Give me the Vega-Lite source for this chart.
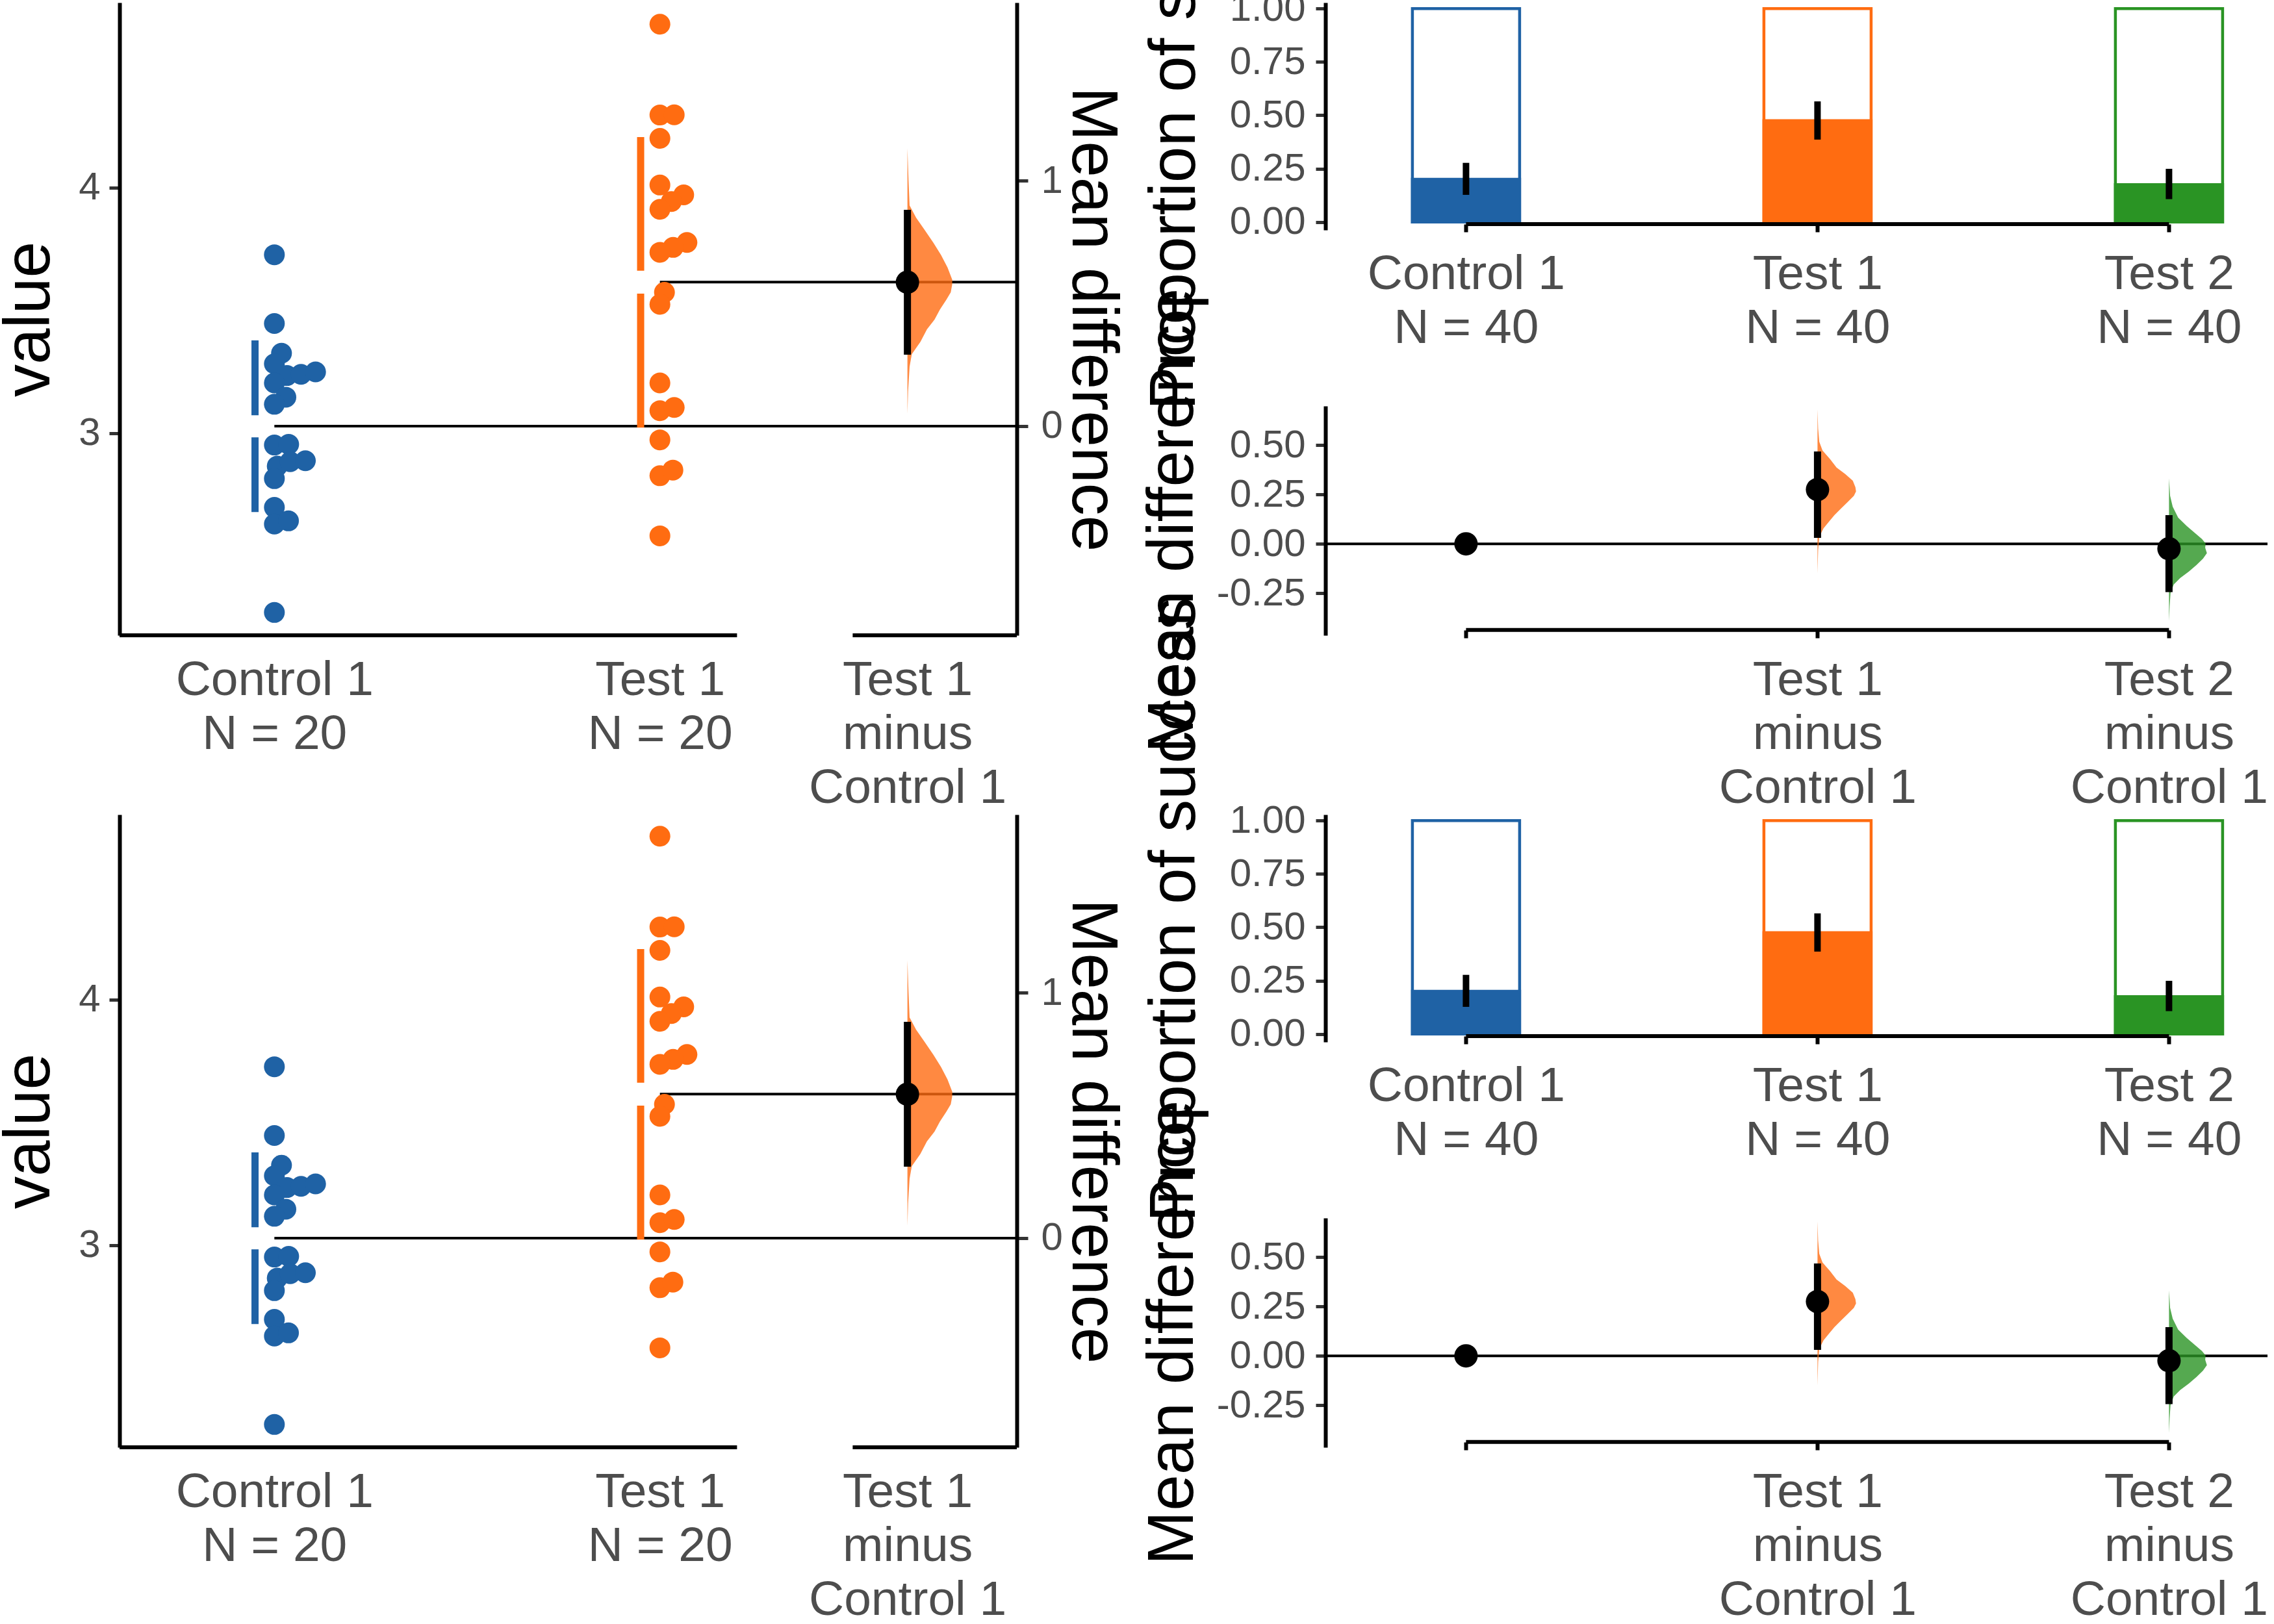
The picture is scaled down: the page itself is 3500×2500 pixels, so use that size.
{
  "$schema": "https://vega.github.io/schema/vega-lite/v6.json",
  "background": "white",
  "padding": {"left": -5, "top": -331, "right": -175, "bottom": -8},
  "columns": 2,
  "bounds": "flush",
  "spacing": {"row": 276, "column": 475},
  "config": {"view": {"stroke": null}, "font": "Liberation Sans", "axis": {"grid": false, "labelLimit": 1000, "titleLimit": 2000}},
  "datasets": {
    "raw": [
      {"group": "Control 1", "value": 3.726, "x": 1.0},
      {"group": "Control 1", "value": 3.446, "x": 1.0},
      {"group": "Control 1", "value": 3.325, "x": 1.0185},
      {"group": "Control 1", "value": 3.282, "x": 1.0},
      {"group": "Control 1", "value": 3.234, "x": 1.0327},
      {"group": "Control 1", "value": 3.239, "x": 1.0691},
      {"group": "Control 1", "value": 3.249, "x": 1.1068},
      {"group": "Control 1", "value": 3.204, "x": 1.0},
      {"group": "Control 1", "value": 3.146, "x": 1.0298},
      {"group": "Control 1", "value": 3.117, "x": 1.0},
      {"group": "Control 1", "value": 2.951, "x": 1.0},
      {"group": "Control 1", "value": 2.954, "x": 1.0371},
      {"group": "Control 1", "value": 2.865, "x": 1.0074},
      {"group": "Control 1", "value": 2.883, "x": 1.0411},
      {"group": "Control 1", "value": 2.887, "x": 1.0804},
      {"group": "Control 1", "value": 2.814, "x": 1.0},
      {"group": "Control 1", "value": 2.697, "x": 1.0},
      {"group": "Control 1", "value": 2.629, "x": 1.0},
      {"group": "Control 1", "value": 2.642, "x": 1.0366},
      {"group": "Control 1", "value": 2.269, "x": 1.0},
      {"group": "Test 1", "value": 4.665, "x": 2.0},
      {"group": "Test 1", "value": 4.295, "x": 2.0},
      {"group": "Test 1", "value": 4.296, "x": 2.0371},
      {"group": "Test 1", "value": 4.2, "x": 2.0},
      {"group": "Test 1", "value": 4.01, "x": 2.0},
      {"group": "Test 1", "value": 3.97, "x": 2.0617},
      {"group": "Test 1", "value": 3.943, "x": 2.0297},
      {"group": "Test 1", "value": 3.911, "x": 2.0},
      {"group": "Test 1", "value": 3.776, "x": 2.0701},
      {"group": "Test 1", "value": 3.756, "x": 2.0342},
      {"group": "Test 1", "value": 3.736, "x": 2.0},
      {"group": "Test 1", "value": 3.573, "x": 2.0118},
      {"group": "Test 1", "value": 3.524, "x": 2.0},
      {"group": "Test 1", "value": 3.204, "x": 2.0},
      {"group": "Test 1", "value": 3.091, "x": 2.0},
      {"group": "Test 1", "value": 3.104, "x": 2.0371},
      {"group": "Test 1", "value": 2.972, "x": 2.0},
      {"group": "Test 1", "value": 2.826, "x": 2.0},
      {"group": "Test 1", "value": 2.849, "x": 2.0337},
      {"group": "Test 1", "value": 2.581, "x": 2.0}
    ],
    "sd": [
      {"group": "Control 1", "x": 0.9498, "top": 3.377, "bottom": 3.072},
      {"group": "Control 1", "x": 0.9498, "top": 2.982, "bottom": 2.678},
      {"group": "Test 1", "x": 1.95, "top": 4.205, "bottom": 3.661},
      {"group": "Test 1", "x": 1.95, "top": 3.568, "bottom": 3.022}
    ],
    "means": [
      {"group": "Control 1", "x": 1, "mean": 3.028},
      {"group": "Test 1", "x": 2, "mean": 3.6145}
    ],
    "axisL": [
      {"x": 0.5984, "x2": 2.2},
      {"x": 2.5, "x2": 2.9257}
    ],
    "deltaL": [
      {"group": "Test 1", "x": 2.642, "diff": 0.586, "lo": 0.291, "hi": 0.881}
    ],
    "violL": [
      {"group": "Test 1", "d": 1.131, "xr": 2.642},
      {"group": "Test 1", "d": 1.0, "xr": 2.6449},
      {"group": "Test 1", "d": 0.899, "xr": 2.6476},
      {"group": "Test 1", "d": 0.849, "xr": 2.6644},
      {"group": "Test 1", "d": 0.798, "xr": 2.687},
      {"group": "Test 1", "d": 0.747, "xr": 2.7094},
      {"group": "Test 1", "d": 0.697, "xr": 2.7291},
      {"group": "Test 1", "d": 0.646, "xr": 2.746},
      {"group": "Test 1", "d": 0.596, "xr": 2.7583},
      {"group": "Test 1", "d": 0.576, "xr": 2.758},
      {"group": "Test 1", "d": 0.545, "xr": 2.7544},
      {"group": "Test 1", "d": 0.515, "xr": 2.7431},
      {"group": "Test 1", "d": 0.475, "xr": 2.7263},
      {"group": "Test 1", "d": 0.434, "xr": 2.7123},
      {"group": "Test 1", "d": 0.394, "xr": 2.6926},
      {"group": "Test 1", "d": 0.343, "xr": 2.6757},
      {"group": "Test 1", "d": 0.293, "xr": 2.6533},
      {"group": "Test 1", "d": 0.242, "xr": 2.6476},
      {"group": "Test 1", "d": 0.141, "xr": 2.6437},
      {"group": "Test 1", "d": 0.05, "xr": 2.642}
    ],
    "prop": [
      {"group": "Control 1", "idx": 1, "prop": 0.2, "lo": 0.127, "hi": 0.277},
      {"group": "Test 1", "idx": 2, "prop": 0.475, "lo": 0.386, "hi": 0.565},
      {"group": "Test 2", "idx": 3, "prop": 0.175, "lo": 0.107, "hi": 0.249}
    ],
    "axisR": [{"x": 1, "x2": 3}],
    "zero": [{"d": 0}],
    "deltaR": [
      {"group": "Control 1", "idx": 1, "diff": 0},
      {"group": "Test 1", "idx": 2, "diff": 0.275},
      {"group": "Test 2", "idx": 3, "diff": -0.025}
    ],
    "ciR": [
      {"group": "Test 1", "idx": 2, "lo": 0.03, "hi": 0.468},
      {"group": "Test 2", "idx": 3, "lo": -0.245, "hi": 0.145}
    ],
    "violR": [
      {"group": "Test 1", "idx": 2, "d": 0.681, "xr": 2.0},
      {"group": "Test 1", "idx": 2, "d": 0.583, "xr": 2.0018},
      {"group": "Test 1", "idx": 2, "d": 0.517, "xr": 2.005},
      {"group": "Test 1", "idx": 2, "d": 0.473, "xr": 2.0142},
      {"group": "Test 1", "idx": 2, "d": 0.429, "xr": 2.0357},
      {"group": "Test 1", "idx": 2, "d": 0.386, "xr": 2.0542},
      {"group": "Test 1", "idx": 2, "d": 0.353, "xr": 2.0789},
      {"group": "Test 1", "idx": 2, "d": 0.32, "xr": 2.1004},
      {"group": "Test 1", "idx": 2, "d": 0.287, "xr": 2.1078},
      {"group": "Test 1", "idx": 2, "d": 0.265, "xr": 2.1096},
      {"group": "Test 1", "idx": 2, "d": 0.243, "xr": 2.1035},
      {"group": "Test 1", "idx": 2, "d": 0.21, "xr": 2.085},
      {"group": "Test 1", "idx": 2, "d": 0.178, "xr": 2.0665},
      {"group": "Test 1", "idx": 2, "d": 0.145, "xr": 2.0481},
      {"group": "Test 1", "idx": 2, "d": 0.112, "xr": 2.0327},
      {"group": "Test 1", "idx": 2, "d": 0.079, "xr": 2.0172},
      {"group": "Test 1", "idx": 2, "d": 0.035, "xr": 2.005},
      {"group": "Test 1", "idx": 2, "d": -0.031, "xr": 2.0018},
      {"group": "Test 1", "idx": 2, "d": -0.151, "xr": 2.0},
      {"group": "Test 2", "idx": 3, "d": 0.331, "xr": 3.0},
      {"group": "Test 2", "idx": 3, "d": 0.243, "xr": 3.0031},
      {"group": "Test 2", "idx": 3, "d": 0.188, "xr": 3.0105},
      {"group": "Test 2", "idx": 3, "d": 0.133, "xr": 3.0259},
      {"group": "Test 2", "idx": 3, "d": 0.09, "xr": 3.0505},
      {"group": "Test 2", "idx": 3, "d": 0.057, "xr": 3.0721},
      {"group": "Test 2", "idx": 3, "d": 0.024, "xr": 3.0937},
      {"group": "Test 2", "idx": 3, "d": 0.002, "xr": 3.1041},
      {"group": "Test 2", "idx": 3, "d": -0.02, "xr": 3.103},
      {"group": "Test 2", "idx": 3, "d": -0.047, "xr": 3.1078},
      {"group": "Test 2", "idx": 3, "d": -0.075, "xr": 3.0967},
      {"group": "Test 2", "idx": 3, "d": -0.107, "xr": 3.0782},
      {"group": "Test 2", "idx": 3, "d": -0.14, "xr": 3.0567},
      {"group": "Test 2", "idx": 3, "d": -0.173, "xr": 3.032},
      {"group": "Test 2", "idx": 3, "d": -0.206, "xr": 3.0135},
      {"group": "Test 2", "idx": 3, "d": -0.25, "xr": 3.0043},
      {"group": "Test 2", "idx": 3, "d": -0.316, "xr": 3.0018},
      {"group": "Test 2", "idx": 3, "d": -0.392, "xr": 3.0}
    ]
  },
  "concat": [
    {
      "width": 1381, "height": 974,
      "resolve": {"scale": {"y": "independent"}, "axis": {"y": "independent"}},
      "layer": [
        {"layer": [
          {"data": {"name": "axisL"}, "mark": {"type": "rule", "strokeWidth": 6, "color": "black"},
           "encoding": {
             "x": {"field": "x", "type": "quantitative", "scale": {"domain": [0.5984, 2.9257], "nice": false, "zero": false, "padding": 0},
                   "axis": {"orient": "bottom", "values": [1, 2, 2.642], "domain": false, "ticks": false, "tickSize": 0, "labelExpr": "datum.value == 1 ? ['Control 1', 'N = 20'] : datum.value == 2 ? ['Test 1', 'N = 20'] : ['Test 1', 'minus', 'Control 1']", "labelFontSize": 75, "labelLineHeight": 83, "labelPadding": 32, "labelColor": "#4d4d4d", "labelLimit": 1000, "labelOverlap": false, "labelFlush": false, "labelAngle": 0, "labelAlign": "center", "labelBaseline": "top", "title": null, "grid": false}},
             "x2": {"field": "x2"},
             "y": {"datum": 2.176, "type": "quantitative", "scale": {"domain": [2.176, 4.753], "nice": false, "zero": false}, "title": "value"}
           }},
          {"data": {"name": "means"}, "mark": {"type": "rule", "strokeWidth": 4, "color": "black"},
           "encoding": {
             "x": {"field": "x", "type": "quantitative", "scale": {"domain": [0.5984, 2.9257], "nice": false, "zero": false, "padding": 0}, "title": null},
             "x2": {"datum": 2.9257},
             "y": {"field": "mean", "type": "quantitative", "scale": {"domain": [2.176, 4.753], "nice": false, "zero": false}, "title": "value"}
           }},
          {"data": {"name": "sd"}, "mark": {"type": "rule", "strokeWidth": 11},
           "encoding": {
             "x": {"field": "x", "type": "quantitative", "scale": {"domain": [0.5984, 2.9257], "nice": false, "zero": false, "padding": 0}, "title": null},
             "y": {"field": "top", "type": "quantitative", "scale": {"domain": [2.176, 4.753], "nice": false, "zero": false}, "title": "value"},
             "y2": {"field": "bottom"},
             "color": {"field": "group", "type": "nominal", "scale": {"domain": ["Control 1", "Test 1", "Test 2"], "range": ["#1F62A5", "#FF6C11", "#2A9424"]}, "legend": null}
           }},
          {"data": {"name": "raw"}, "mark": {"type": "circle", "size": 1024, "opacity": 1},
           "encoding": {
             "x": {"field": "x", "type": "quantitative", "scale": {"domain": [0.5984, 2.9257], "nice": false, "zero": false, "padding": 0}, "title": null},
             "y": {"field": "value", "type": "quantitative", "scale": {"domain": [2.176, 4.753], "nice": false, "zero": false},
                   "axis": {"orient": "left", "values": [3, 4], "format": "d", "domainColor": "black", "domainWidth": 6, "tickColor": "#333333", "tickWidth": 5, "tickSize": 16, "labelFontSize": 60, "labelColor": "#4d4d4d", "labelPadding": 14, "labelFlush": false, "labelOverlap": false, "title": "value", "titleFontSize": 100, "titleFontWeight": "normal", "titleColor": "black", "titleAngle": 270, "titleX": -139, "titleY": 487, "titleAlign": "center", "titleBaseline": "middle", "grid": false}},
             "color": {"field": "group", "type": "nominal", "scale": {"domain": ["Control 1", "Test 1", "Test 2"], "range": ["#1F62A5", "#FF6C11", "#2A9424"]}, "legend": null}
           }}
        ]},
        {"layer": [
          {"data": {"name": "violL"}, "mark": {"type": "area", "orient": "horizontal", "opacity": 0.8},
           "encoding": {
             "y": {"field": "d", "type": "quantitative", "scale": {"domain": [-0.852, 1.725], "nice": false, "zero": false},
                   "axis": {"orient": "right", "values": [0, 1], "format": "d", "domainColor": "black", "domainWidth": 6, "tickColor": "#333333", "tickWidth": 5, "tickSize": 17, "labelFontSize": 60, "labelColor": "#4d4d4d", "labelPadding": 20, "labelFlush": false, "labelOverlap": false, "title": "Mean difference", "titleFontSize": 100, "titleFontWeight": "normal", "titleColor": "black", "titleAngle": 90, "titleX": 115, "titleY": 487, "titleAlign": "center", "titleBaseline": "middle", "grid": false}},
             "x": {"field": "xr", "type": "quantitative", "stack": null, "scale": {"domain": [0.5984, 2.9257], "nice": false, "zero": false, "padding": 0}, "title": null},
             "x2": {"datum": 2.642},
             "color": {"field": "group", "type": "nominal", "scale": {"domain": ["Control 1", "Test 1", "Test 2"], "range": ["#1F62A5", "#FF6C11", "#2A9424"]}, "legend": null}
           }},
          {"data": {"name": "deltaL"}, "mark": {"type": "rule", "strokeWidth": 11, "color": "black"},
           "encoding": {
             "x": {"field": "x", "type": "quantitative", "scale": {"domain": [0.5984, 2.9257], "nice": false, "zero": false, "padding": 0}, "title": null},
             "y": {"field": "lo", "type": "quantitative", "scale": {"domain": [-0.852, 1.725], "nice": false, "zero": false}, "title": "Mean difference"},
             "y2": {"field": "hi"}
           }},
          {"data": {"name": "deltaL"}, "mark": {"type": "circle", "size": 1296, "color": "black", "opacity": 1},
           "encoding": {
             "x": {"field": "x", "type": "quantitative", "scale": {"domain": [0.5984, 2.9257], "nice": false, "zero": false, "padding": 0}, "title": null},
             "y": {"field": "diff", "type": "quantitative", "scale": {"domain": [-0.852, 1.725], "nice": false, "zero": false}, "title": "Mean difference"}
           }}
        ]}
      ]
    },
    {
      "width": 1623, "height": 974,
      "resolve": {"scale": {"y": "independent"}, "axis": {"x": "independent", "y": "independent"}},
      "layer": [
        {"layer": [
          {"data": {"name": "prop"}, "mark": {"type": "bar", "orient": "vertical", "width": 165, "fill": "white", "strokeWidth": 4.5},
           "encoding": {
             "x": {"field": "idx", "type": "quantitative", "scale": {"domain": [0.6, 3.6], "nice": false, "zero": false, "padding": 0},
                   "axis": {"orient": "bottom", "offset": -633, "values": [1, 2, 3], "domain": false, "ticks": true, "tickColor": "black", "tickWidth": 6, "tickSize": 12, "labelExpr": "datum.value == 1 ? ['Control 1', 'N = 40'] : datum.value == 2 ? ['Test 1', 'N = 40'] : ['Test 2', 'N = 40']", "labelFontSize": 75, "labelLineHeight": 83, "labelPadding": 28, "labelColor": "#4d4d4d", "labelLimit": 1000, "labelOverlap": false, "labelFlush": false, "labelAngle": 0, "labelAlign": "center", "labelBaseline": "top", "title": null, "grid": false}},
             "y": {"datum": 1, "type": "quantitative", "scale": {"domain": [-0.0375, 1.028], "range": [350, 0], "nice": false, "zero": false, "padding": 0}, "title": "Proportion of success"},
             "y2": {"datum": 0},
             "stroke": {"field": "group", "type": "nominal", "scale": {"domain": ["Control 1", "Test 1", "Test 2"], "range": ["#1F62A5", "#FF6C11", "#2A9424"]}, "legend": null}
           }},
          {"data": {"name": "prop"}, "mark": {"type": "bar", "orient": "vertical", "width": 165, "strokeWidth": 4.5},
           "encoding": {
             "x": {"field": "idx", "type": "quantitative", "scale": {"domain": [0.6, 3.6], "nice": false, "zero": false, "padding": 0}, "title": null},
             "y": {"field": "prop", "type": "quantitative", "scale": {"domain": [-0.0375, 1.028], "range": [350, 0], "nice": false, "zero": false, "padding": 0},
                   "axis": {"orient": "left", "values": [0, 0.25, 0.5, 0.75, 1], "format": ".2f", "domainColor": "black", "domainWidth": 6, "tickColor": "#333333", "tickWidth": 5, "tickSize": 15, "labelFontSize": 60, "labelColor": "#4d4d4d", "labelPadding": 16, "labelFlush": false, "labelOverlap": false, "title": "Proportion of success", "titleFontSize": 100, "titleFontWeight": "normal", "titleColor": "black", "titleAngle": 270, "titleX": -232, "titleY": 146, "titleAlign": "center", "titleBaseline": "middle", "grid": false}},
             "y2": {"datum": 0},
             "fill": {"field": "group", "type": "nominal", "scale": {"domain": ["Control 1", "Test 1", "Test 2"], "range": ["#1F62A5", "#FF6C11", "#2A9424"]}, "legend": null},
             "stroke": {"field": "group", "type": "nominal", "scale": {"domain": ["Control 1", "Test 1", "Test 2"], "range": ["#1F62A5", "#FF6C11", "#2A9424"]}, "legend": null}
           }},
          {"data": {"name": "prop"}, "mark": {"type": "rule", "strokeWidth": 10, "color": "black"},
           "encoding": {
             "x": {"field": "idx", "type": "quantitative", "scale": {"domain": [0.6, 3.6], "nice": false, "zero": false, "padding": 0}, "title": null},
             "y": {"field": "lo", "type": "quantitative", "scale": {"domain": [-0.0375, 1.028], "range": [350, 0], "nice": false, "zero": false, "padding": 0}, "title": "Proportion of success"},
             "y2": {"field": "hi"}
           }},
          {"data": {"name": "axisR"}, "mark": {"type": "rule", "strokeWidth": 6, "color": "black"},
           "encoding": {
             "x": {"field": "x", "type": "quantitative", "scale": {"domain": [0.6, 3.6], "nice": false, "zero": false, "padding": 0}, "title": null},
             "x2": {"field": "x2"},
             "y": {"datum": -0.01, "type": "quantitative", "scale": {"domain": [-0.0375, 1.028], "range": [350, 0], "nice": false, "zero": false, "padding": 0}, "title": "Proportion of success"}
           }}
        ]},
        {"layer": [
          {"data": {"name": "zero"}, "mark": {"type": "rule", "strokeWidth": 4, "color": "black"},
           "encoding": {
             "y": {"field": "d", "type": "quantitative", "scale": {"domain": [-0.4635, 0.698], "range": [974, 621], "nice": false, "zero": false}, "title": "Mean difference"}
           }},
          {"data": {"name": "violR"}, "mark": {"type": "area", "orient": "horizontal", "opacity": 0.8},
           "encoding": {
             "y": {"field": "d", "type": "quantitative", "scale": {"domain": [-0.4635, 0.698], "range": [974, 621], "nice": false, "zero": false}, "title": "Mean difference"},
             "x": {"field": "xr", "type": "quantitative", "stack": null, "scale": {"domain": [0.6, 3.6], "nice": false, "zero": false, "padding": 0}, "title": null},
             "x2": {"field": "idx"},
             "color": {"field": "group", "type": "nominal", "scale": {"domain": ["Control 1", "Test 1", "Test 2"], "range": ["#1F62A5", "#FF6C11", "#2A9424"]}, "legend": null}
           }},
          {"data": {"name": "ciR"}, "mark": {"type": "rule", "strokeWidth": 11, "color": "black"},
           "encoding": {
             "x": {"field": "idx", "type": "quantitative", "scale": {"domain": [0.6, 3.6], "nice": false, "zero": false, "padding": 0}, "title": null},
             "y": {"field": "lo", "type": "quantitative", "scale": {"domain": [-0.4635, 0.698], "range": [974, 621], "nice": false, "zero": false}, "title": "Mean difference"},
             "y2": {"field": "hi"}
           }},
          {"data": {"name": "deltaR"}, "mark": {"type": "circle", "size": 1296, "color": "black", "opacity": 1},
           "encoding": {
             "x": {"field": "idx", "type": "quantitative", "scale": {"domain": [0.6, 3.6], "nice": false, "zero": false, "padding": 0},
                   "axis": {"orient": "bottom", "offset": -8, "values": [1, 2, 3], "domain": false, "ticks": true, "tickColor": "black", "tickWidth": 6, "tickSize": 12, "labelExpr": "datum.value == 2 ? ['Test 1', 'minus', 'Control 1'] : datum.value == 3 ? ['Test 2', 'minus', 'Control 1'] : ''", "labelFontSize": 75, "labelLineHeight": 83, "labelPadding": 28, "labelColor": "#4d4d4d", "labelLimit": 1000, "labelOverlap": false, "labelFlush": false, "labelAngle": 0, "labelAlign": "center", "labelBaseline": "top", "title": null, "grid": false}},
             "y": {"field": "diff", "type": "quantitative", "scale": {"domain": [-0.4635, 0.698], "range": [974, 621], "nice": false, "zero": false},
                   "axis": {"orient": "left", "values": [-0.25, 0, 0.25, 0.5], "labelExpr": "replace(format(datum.value, '.2f'), '\u2212', '-')", "domainColor": "black", "domainWidth": 6, "tickColor": "#333333", "tickWidth": 5, "tickSize": 15, "labelFontSize": 60, "labelColor": "#4d4d4d", "labelPadding": 16, "labelFlush": false, "labelOverlap": false, "title": "Mean difference", "titleFontSize": 100, "titleFontWeight": "normal", "titleColor": "black", "titleAngle": 270, "titleX": -235, "titleY": 797, "titleAlign": "center", "titleBaseline": "middle", "grid": false}}
           }},
          {"data": {"name": "axisR"}, "mark": {"type": "rule", "strokeWidth": 6, "color": "black"},
           "encoding": {
             "x": {"field": "x", "type": "quantitative", "scale": {"domain": [0.6, 3.6], "nice": false, "zero": false, "padding": 0}, "title": null},
             "x2": {"field": "x2"},
             "y": {"datum": -0.436, "type": "quantitative", "scale": {"domain": [-0.4635, 0.698], "range": [974, 621], "nice": false, "zero": false}, "title": "Mean difference"}
           }}
        ]}
      ]
    },
    {
      "width": 1381, "height": 974,
      "resolve": {"scale": {"y": "independent"}, "axis": {"y": "independent"}},
      "layer": [
        {"layer": [
          {"data": {"name": "axisL"}, "mark": {"type": "rule", "strokeWidth": 6, "color": "black"},
           "encoding": {
             "x": {"field": "x", "type": "quantitative", "scale": {"domain": [0.5984, 2.9257], "nice": false, "zero": false, "padding": 0},
                   "axis": {"orient": "bottom", "values": [1, 2, 2.642], "domain": false, "ticks": false, "tickSize": 0, "labelExpr": "datum.value == 1 ? ['Control 1', 'N = 20'] : datum.value == 2 ? ['Test 1', 'N = 20'] : ['Test 1', 'minus', 'Control 1']", "labelFontSize": 75, "labelLineHeight": 83, "labelPadding": 32, "labelColor": "#4d4d4d", "labelLimit": 1000, "labelOverlap": false, "labelFlush": false, "labelAngle": 0, "labelAlign": "center", "labelBaseline": "top", "title": null, "grid": false}},
             "x2": {"field": "x2"},
             "y": {"datum": 2.176, "type": "quantitative", "scale": {"domain": [2.176, 4.753], "nice": false, "zero": false}, "title": "value"}
           }},
          {"data": {"name": "means"}, "mark": {"type": "rule", "strokeWidth": 4, "color": "black"},
           "encoding": {
             "x": {"field": "x", "type": "quantitative", "scale": {"domain": [0.5984, 2.9257], "nice": false, "zero": false, "padding": 0}, "title": null},
             "x2": {"datum": 2.9257},
             "y": {"field": "mean", "type": "quantitative", "scale": {"domain": [2.176, 4.753], "nice": false, "zero": false}, "title": "value"}
           }},
          {"data": {"name": "sd"}, "mark": {"type": "rule", "strokeWidth": 11},
           "encoding": {
             "x": {"field": "x", "type": "quantitative", "scale": {"domain": [0.5984, 2.9257], "nice": false, "zero": false, "padding": 0}, "title": null},
             "y": {"field": "top", "type": "quantitative", "scale": {"domain": [2.176, 4.753], "nice": false, "zero": false}, "title": "value"},
             "y2": {"field": "bottom"},
             "color": {"field": "group", "type": "nominal", "scale": {"domain": ["Control 1", "Test 1", "Test 2"], "range": ["#1F62A5", "#FF6C11", "#2A9424"]}, "legend": null}
           }},
          {"data": {"name": "raw"}, "mark": {"type": "circle", "size": 1024, "opacity": 1},
           "encoding": {
             "x": {"field": "x", "type": "quantitative", "scale": {"domain": [0.5984, 2.9257], "nice": false, "zero": false, "padding": 0}, "title": null},
             "y": {"field": "value", "type": "quantitative", "scale": {"domain": [2.176, 4.753], "nice": false, "zero": false},
                   "axis": {"orient": "left", "values": [3, 4], "format": "d", "domainColor": "black", "domainWidth": 6, "tickColor": "#333333", "tickWidth": 5, "tickSize": 16, "labelFontSize": 60, "labelColor": "#4d4d4d", "labelPadding": 14, "labelFlush": false, "labelOverlap": false, "title": "value", "titleFontSize": 100, "titleFontWeight": "normal", "titleColor": "black", "titleAngle": 270, "titleX": -139, "titleY": 487, "titleAlign": "center", "titleBaseline": "middle", "grid": false}},
             "color": {"field": "group", "type": "nominal", "scale": {"domain": ["Control 1", "Test 1", "Test 2"], "range": ["#1F62A5", "#FF6C11", "#2A9424"]}, "legend": null}
           }}
        ]},
        {"layer": [
          {"data": {"name": "violL"}, "mark": {"type": "area", "orient": "horizontal", "opacity": 0.8},
           "encoding": {
             "y": {"field": "d", "type": "quantitative", "scale": {"domain": [-0.852, 1.725], "nice": false, "zero": false},
                   "axis": {"orient": "right", "values": [0, 1], "format": "d", "domainColor": "black", "domainWidth": 6, "tickColor": "#333333", "tickWidth": 5, "tickSize": 17, "labelFontSize": 60, "labelColor": "#4d4d4d", "labelPadding": 20, "labelFlush": false, "labelOverlap": false, "title": "Mean difference", "titleFontSize": 100, "titleFontWeight": "normal", "titleColor": "black", "titleAngle": 90, "titleX": 115, "titleY": 487, "titleAlign": "center", "titleBaseline": "middle", "grid": false}},
             "x": {"field": "xr", "type": "quantitative", "stack": null, "scale": {"domain": [0.5984, 2.9257], "nice": false, "zero": false, "padding": 0}, "title": null},
             "x2": {"datum": 2.642},
             "color": {"field": "group", "type": "nominal", "scale": {"domain": ["Control 1", "Test 1", "Test 2"], "range": ["#1F62A5", "#FF6C11", "#2A9424"]}, "legend": null}
           }},
          {"data": {"name": "deltaL"}, "mark": {"type": "rule", "strokeWidth": 11, "color": "black"},
           "encoding": {
             "x": {"field": "x", "type": "quantitative", "scale": {"domain": [0.5984, 2.9257], "nice": false, "zero": false, "padding": 0}, "title": null},
             "y": {"field": "lo", "type": "quantitative", "scale": {"domain": [-0.852, 1.725], "nice": false, "zero": false}, "title": "Mean difference"},
             "y2": {"field": "hi"}
           }},
          {"data": {"name": "deltaL"}, "mark": {"type": "circle", "size": 1296, "color": "black", "opacity": 1},
           "encoding": {
             "x": {"field": "x", "type": "quantitative", "scale": {"domain": [0.5984, 2.9257], "nice": false, "zero": false, "padding": 0}, "title": null},
             "y": {"field": "diff", "type": "quantitative", "scale": {"domain": [-0.852, 1.725], "nice": false, "zero": false}, "title": "Mean difference"}
           }}
        ]}
      ]
    },
    {
      "width": 1623, "height": 974,
      "resolve": {"scale": {"y": "independent"}, "axis": {"x": "independent", "y": "independent"}},
      "layer": [
        {"layer": [
          {"data": {"name": "prop"}, "mark": {"type": "bar", "orient": "vertical", "width": 165, "fill": "white", "strokeWidth": 4.5},
           "encoding": {
             "x": {"field": "idx", "type": "quantitative", "scale": {"domain": [0.6, 3.6], "nice": false, "zero": false, "padding": 0},
                   "axis": {"orient": "bottom", "offset": -633, "values": [1, 2, 3], "domain": false, "ticks": true, "tickColor": "black", "tickWidth": 6, "tickSize": 12, "labelExpr": "datum.value == 1 ? ['Control 1', 'N = 40'] : datum.value == 2 ? ['Test 1', 'N = 40'] : ['Test 2', 'N = 40']", "labelFontSize": 75, "labelLineHeight": 83, "labelPadding": 28, "labelColor": "#4d4d4d", "labelLimit": 1000, "labelOverlap": false, "labelFlush": false, "labelAngle": 0, "labelAlign": "center", "labelBaseline": "top", "title": null, "grid": false}},
             "y": {"datum": 1, "type": "quantitative", "scale": {"domain": [-0.0375, 1.028], "range": [350, 0], "nice": false, "zero": false, "padding": 0}, "title": "Proportion of success"},
             "y2": {"datum": 0},
             "stroke": {"field": "group", "type": "nominal", "scale": {"domain": ["Control 1", "Test 1", "Test 2"], "range": ["#1F62A5", "#FF6C11", "#2A9424"]}, "legend": null}
           }},
          {"data": {"name": "prop"}, "mark": {"type": "bar", "orient": "vertical", "width": 165, "strokeWidth": 4.5},
           "encoding": {
             "x": {"field": "idx", "type": "quantitative", "scale": {"domain": [0.6, 3.6], "nice": false, "zero": false, "padding": 0}, "title": null},
             "y": {"field": "prop", "type": "quantitative", "scale": {"domain": [-0.0375, 1.028], "range": [350, 0], "nice": false, "zero": false, "padding": 0},
                   "axis": {"orient": "left", "values": [0, 0.25, 0.5, 0.75, 1], "format": ".2f", "domainColor": "black", "domainWidth": 6, "tickColor": "#333333", "tickWidth": 5, "tickSize": 15, "labelFontSize": 60, "labelColor": "#4d4d4d", "labelPadding": 16, "labelFlush": false, "labelOverlap": false, "title": "Proportion of success", "titleFontSize": 100, "titleFontWeight": "normal", "titleColor": "black", "titleAngle": 270, "titleX": -232, "titleY": 146, "titleAlign": "center", "titleBaseline": "middle", "grid": false}},
             "y2": {"datum": 0},
             "fill": {"field": "group", "type": "nominal", "scale": {"domain": ["Control 1", "Test 1", "Test 2"], "range": ["#1F62A5", "#FF6C11", "#2A9424"]}, "legend": null},
             "stroke": {"field": "group", "type": "nominal", "scale": {"domain": ["Control 1", "Test 1", "Test 2"], "range": ["#1F62A5", "#FF6C11", "#2A9424"]}, "legend": null}
           }},
          {"data": {"name": "prop"}, "mark": {"type": "rule", "strokeWidth": 10, "color": "black"},
           "encoding": {
             "x": {"field": "idx", "type": "quantitative", "scale": {"domain": [0.6, 3.6], "nice": false, "zero": false, "padding": 0}, "title": null},
             "y": {"field": "lo", "type": "quantitative", "scale": {"domain": [-0.0375, 1.028], "range": [350, 0], "nice": false, "zero": false, "padding": 0}, "title": "Proportion of success"},
             "y2": {"field": "hi"}
           }},
          {"data": {"name": "axisR"}, "mark": {"type": "rule", "strokeWidth": 6, "color": "black"},
           "encoding": {
             "x": {"field": "x", "type": "quantitative", "scale": {"domain": [0.6, 3.6], "nice": false, "zero": false, "padding": 0}, "title": null},
             "x2": {"field": "x2"},
             "y": {"datum": -0.01, "type": "quantitative", "scale": {"domain": [-0.0375, 1.028], "range": [350, 0], "nice": false, "zero": false, "padding": 0}, "title": "Proportion of success"}
           }}
        ]},
        {"layer": [
          {"data": {"name": "zero"}, "mark": {"type": "rule", "strokeWidth": 4, "color": "black"},
           "encoding": {
             "y": {"field": "d", "type": "quantitative", "scale": {"domain": [-0.4635, 0.698], "range": [974, 621], "nice": false, "zero": false}, "title": "Mean difference"}
           }},
          {"data": {"name": "violR"}, "mark": {"type": "area", "orient": "horizontal", "opacity": 0.8},
           "encoding": {
             "y": {"field": "d", "type": "quantitative", "scale": {"domain": [-0.4635, 0.698], "range": [974, 621], "nice": false, "zero": false}, "title": "Mean difference"},
             "x": {"field": "xr", "type": "quantitative", "stack": null, "scale": {"domain": [0.6, 3.6], "nice": false, "zero": false, "padding": 0}, "title": null},
             "x2": {"field": "idx"},
             "color": {"field": "group", "type": "nominal", "scale": {"domain": ["Control 1", "Test 1", "Test 2"], "range": ["#1F62A5", "#FF6C11", "#2A9424"]}, "legend": null}
           }},
          {"data": {"name": "ciR"}, "mark": {"type": "rule", "strokeWidth": 11, "color": "black"},
           "encoding": {
             "x": {"field": "idx", "type": "quantitative", "scale": {"domain": [0.6, 3.6], "nice": false, "zero": false, "padding": 0}, "title": null},
             "y": {"field": "lo", "type": "quantitative", "scale": {"domain": [-0.4635, 0.698], "range": [974, 621], "nice": false, "zero": false}, "title": "Mean difference"},
             "y2": {"field": "hi"}
           }},
          {"data": {"name": "deltaR"}, "mark": {"type": "circle", "size": 1296, "color": "black", "opacity": 1},
           "encoding": {
             "x": {"field": "idx", "type": "quantitative", "scale": {"domain": [0.6, 3.6], "nice": false, "zero": false, "padding": 0},
                   "axis": {"orient": "bottom", "offset": -8, "values": [1, 2, 3], "domain": false, "ticks": true, "tickColor": "black", "tickWidth": 6, "tickSize": 12, "labelExpr": "datum.value == 2 ? ['Test 1', 'minus', 'Control 1'] : datum.value == 3 ? ['Test 2', 'minus', 'Control 1'] : ''", "labelFontSize": 75, "labelLineHeight": 83, "labelPadding": 28, "labelColor": "#4d4d4d", "labelLimit": 1000, "labelOverlap": false, "labelFlush": false, "labelAngle": 0, "labelAlign": "center", "labelBaseline": "top", "title": null, "grid": false}},
             "y": {"field": "diff", "type": "quantitative", "scale": {"domain": [-0.4635, 0.698], "range": [974, 621], "nice": false, "zero": false},
                   "axis": {"orient": "left", "values": [-0.25, 0, 0.25, 0.5], "labelExpr": "replace(format(datum.value, '.2f'), '\u2212', '-')", "domainColor": "black", "domainWidth": 6, "tickColor": "#333333", "tickWidth": 5, "tickSize": 15, "labelFontSize": 60, "labelColor": "#4d4d4d", "labelPadding": 16, "labelFlush": false, "labelOverlap": false, "title": "Mean difference", "titleFontSize": 100, "titleFontWeight": "normal", "titleColor": "black", "titleAngle": 270, "titleX": -235, "titleY": 797, "titleAlign": "center", "titleBaseline": "middle", "grid": false}}
           }},
          {"data": {"name": "axisR"}, "mark": {"type": "rule", "strokeWidth": 6, "color": "black"},
           "encoding": {
             "x": {"field": "x", "type": "quantitative", "scale": {"domain": [0.6, 3.6], "nice": false, "zero": false, "padding": 0}, "title": null},
             "x2": {"field": "x2"},
             "y": {"datum": -0.436, "type": "quantitative", "scale": {"domain": [-0.4635, 0.698], "range": [974, 621], "nice": false, "zero": false}, "title": "Mean difference"}
           }}
        ]}
      ]
    }
  ]
}
